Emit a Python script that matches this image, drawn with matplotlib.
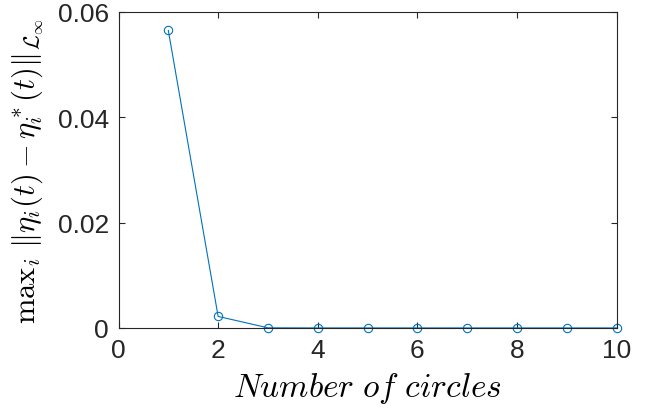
import matplotlib
matplotlib.use("Agg")
import matplotlib.pyplot as plt
import numpy as np

# values
circles = [1, 2, 3, 4, 5, 6, 7, 8, 9, 10]
max_err = [0.0565, 0.0022, 0.00003, 0.00001, 0.00001, 0.00001, 0.00001, 0.00001, 0.00001, 0.00001]
x_ticks = [0, 2, 4, 6, 8, 10]
y_ticks = [0, 0.02, 0.04, 0.06]
y_ticklabels = ["0", "0.02", "0.04", "0.06"]

plt.rcParams["mathtext.fontset"] = "cm"
plt.rcParams["font.family"] = ["Liberation Sans", "DejaVu Sans"]

fig = plt.figure(figsize=(6.49, 4.10), dpi=100)
ax = fig.add_axes([0.1826, 0.1976, 0.7674, 0.7707])

ax.plot(circles, max_err, color="#0072BD", linewidth=0.8, marker="o",
        markersize=6, markerfacecolor="none", markeredgewidth=0.8, clip_on=False)

ax.set_xlim(0, 10)
ax.set_ylim(0, 0.06)
ax.set_xticks(x_ticks)
ax.set_yticks(y_ticks)
ax.set_yticklabels(y_ticklabels)

dark = (0.15, 0.15, 0.15)
for s in ax.spines.values():
    s.set_color(dark)
    s.set_linewidth(0.8)
ax.tick_params(direction="in", length=4.5, width=0.8, colors=dark,
               labelsize=19, top=True, right=True, pad=7)

ax.set_xlabel(r"$Number\ of\ circles$", fontsize=24, color="black", labelpad=6)
ax.set_ylabel(r"$\mathrm{max}_i\ \|\eta_i(t)-\eta_i^*(t)\|_{\mathcal{L}_\infty}$",
              fontsize=22, color="black", labelpad=8)

fig.savefig("out.png", dpi=100)
